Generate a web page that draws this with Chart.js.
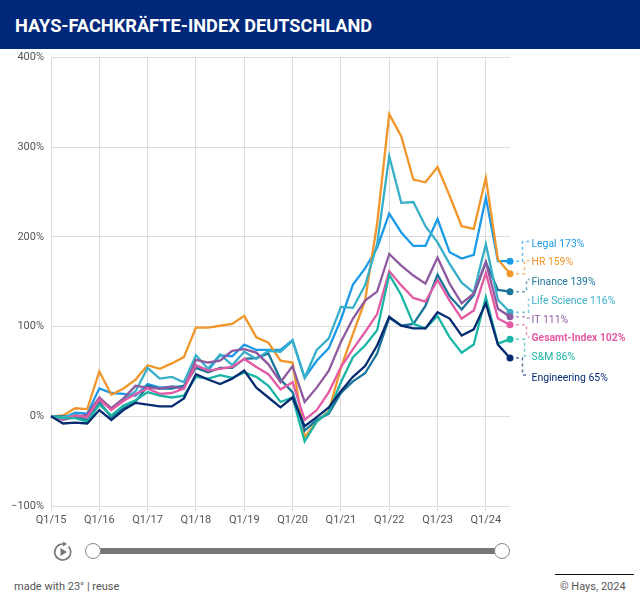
<!DOCTYPE html>
<html lang="de">
<head>
<meta charset="utf-8">
<title>Hays-Fachkräfte-Index Deutschland</title>
<script src="https://cdn.jsdelivr.net/npm/chart.js@4"></script>
<style>
  html, body { margin: 0; padding: 0; background: #fff; font-family: Roboto, sans-serif; }
  #page { position: relative; width: 640px; height: 606px; overflow: hidden; }
  #head { position: absolute; left: 0; top: 0; width: 640px; height: 49px; background: #00287a; }
  #head h1 { margin: 0; position: absolute; left: 15px; top: 15px; font-size: 18.2px; line-height: 22px; font-weight: 700; color: #fff; white-space: nowrap; }
  #wrap { position: absolute; left: 0; top: 44px; width: 640px; height: 495px; }
  #bar { position: absolute; left: 93px; top: 548px; width: 409px; height: 6px; background: #777; }
  .knob { position: absolute; top: 543px; width: 14px; height: 14px; border: 1px solid #888; border-radius: 50%; background: #fff; }
  #play { position: absolute; left: 53px; top: 541px; }
  .foot { position: absolute; top: 580px; font-size: 11px; line-height: 14px; color: #555; white-space: nowrap; }
  #rule { position: absolute; left: 555px; top: 574px; width: 79px; height: 1px; background: #111; }
</style>
</head>
<body>
<div id="page">
  <div id="wrap"><canvas id="myChart" width="640" height="495"></canvas></div>
  <div id="head"><h1>HAYS-FACHKRÄFTE-INDEX DEUTSCHLAND</h1></div>
  <svg id="play" width="20" height="21" viewBox="0 0 20 21">
    <path d="M15.5 5.5 A8 8 0 1 1 10 3" fill="none" stroke="#777" stroke-width="1.6"/>
    <path d="M10 0.5 L14 3 L10 5.5 Z" fill="#777"/>
    <path d="M7.5 7 L14 11 L7.5 15 Z" fill="#777"/>
  </svg>
  <div id="bar"></div>
  <div class="knob" style="left:85px"></div>
  <div class="knob" style="left:494px"></div>
  <div class="foot" style="left:14px">made with 23° | reuse</div>
  <div id="rule"></div>
  <div class="foot" style="left:560px">© Hays, 2024</div>
</div>
<script>
const quarters = [
  "Q1/15", "Q2/15", "Q3/15", "Q4/15", "Q1/16", "Q2/16", "Q3/16", "Q4/16",
  "Q1/17", "Q2/17", "Q3/17", "Q4/17", "Q1/18", "Q2/18", "Q3/18", "Q4/18",
  "Q1/19", "Q2/19", "Q3/19", "Q4/19", "Q1/20", "Q2/20", "Q3/20", "Q4/20",
  "Q1/21", "Q2/21", "Q3/21", "Q4/21", "Q1/22", "Q2/22", "Q3/22", "Q4/22",
  "Q1/23", "Q2/23", "Q3/23", "Q4/23", "Q1/24", "Q2/24", "Q3/24"
];
const yTicks = [-100, 0, 100, 200, 300, 400];

const legal = [0, -2, 4, 3, 31, 26, 25, 23, 36, 32, 33, 33, 57, 51, 68, 67, 80, 74, 74, 74, 85, 43, 62, 76, 108, 147, 165, 188, 226, 205, 190, 190, 220, 183, 176, 180, 244, 173, 173];
const hr = [0, 1, 9, 8, 50, 24, 31, 41, 57, 53, 59, 66, 99, 99, 101, 103, 112, 88, 82, 62, 60, -23, -6, 6, 54, 92, 129, 215, 337, 312, 264, 261, 278, 246, 212, 209, 266, 175, 159];
const finance = [0, 0, 0, -4, 16, -1, 9, 16, 34, 31, 31, 34, 54, 49, 54, 54, 64, 65, 70, 41, 27, -16, -4, 3, 26, 39, 48, 70, 110, 101, 103, 123, 158, 134, 119, 135, 172, 141, 139];
const lifeScience = [0, -1, 2, -2, 20, 8, 18, 28, 54, 42, 44, 38, 68, 53, 69, 57, 72, 64, 73, 72, 84, 43, 74, 87, 122, 121, 146, 192, 290, 238, 239, 212, 194, 170, 149, 138, 192, 130, 116];
const it = [0, -4, -1, 2, 21, 9, 20, 34, 32, 31, 33, 31, 63, 60, 62, 73, 75, 71, 58, 38, 56, 16, 32, 51, 83, 109, 129, 139, 181, 168, 157, 148, 177, 148, 126, 137, 172, 120, 111];
const gesamtIndex = [0, -3, 1, -1, 19, 7, 17, 25, 31, 25, 26, 31, 57, 51, 53, 55, 64, 55, 47, 30, 38, -4, 7, 27, 55, 75, 94, 114, 162, 146, 132, 128, 152, 129, 109, 118, 160, 109, 102];
const sm = [0, -2, -2, -6, 13, 1, 12, 18, 27, 23, 21, 23, 44, 42, 46, 43, 49, 44, 34, 16, 21, -28, -6, 5, 38, 66, 79, 96, 158, 135, 103, 98, 112, 88, 71, 80, 133, 81, 86];
const engineering = [0, -8, -7, -8, 7, -4, 7, 15, 13, 11, 11, 20, 47, 41, 36, 42, 51, 32, 21, 10, 21, -11, -1, 10, 28, 44, 56, 79, 111, 101, 98, 98, 116, 109, 90, 97, 126, 80, 65];

// top dataset comes first, chart.js paints the list backwards
const series = [
  { name: "Engineering", data: engineering, color: "#052b72", labelY: 378, lineY: 375, elbow: 522.5 },
  { name: "S&M", data: sm, color: "#1ab5a5", labelY: 357.5, lineY: 356, elbow: 524.5 },
  { name: "Gesamt-Index", data: gesamtIndex, color: "#e45aa5", labelY: 338.5, lineY: 337, elbow: 526.5, bold: true },
  { name: "IT", data: it, color: "#8e5a9f", labelY: 320, lineY: 318, elbow: 526.5 },
  { name: "Life Science", data: lifeScience, color: "#38afc8", labelY: 301.5, lineY: 299.5, elbow: 528.5 },
  { name: "Finance", data: finance, color: "#1b7499", labelY: 282, lineY: 279.5, elbow: 526.5 },
  { name: "HR", data: hr, color: "#f0962a", labelY: 262.5, lineY: 260.5, elbow: 524.5 },
  { name: "Legal", data: legal, color: "#1a9ae8", labelY: 244, lineY: 241.5, elbow: 522.5 }
];

const CANVAS_TOP = 44;
const LABEL_X = 531.5;

const endLabels = {
  id: "endLabels",
  afterDatasetsDraw(chart) {
    const ctx = chart.ctx;
    ctx.save();
    series.forEach(function (s, i) {
      const last = chart.getDatasetMeta(i).data[quarters.length - 1];
      const lineY = s.lineY - CANVAS_TOP;
      ctx.globalAlpha = 0.65;
      ctx.strokeStyle = s.color;
      ctx.lineWidth = 1.5;
      ctx.setLineDash([3, 3]);
      ctx.beginPath();
      ctx.moveTo(last.x, last.y);
      ctx.lineTo(s.elbow, last.y);
      ctx.lineTo(s.elbow, lineY);
      ctx.lineTo(LABEL_X - 2, lineY);
      ctx.stroke();

      ctx.globalAlpha = 1;
      ctx.setLineDash([]);
      ctx.fillStyle = s.color;
      ctx.font = (s.bold ? "700" : "400") + " 10.4px Roboto, sans-serif";
      ctx.textAlign = "left";
      ctx.textBaseline = "middle";
      ctx.fillText(s.name + " " + s.data[s.data.length - 1] + "%", LABEL_X, s.labelY - CANVAS_TOP);
    });
    ctx.restore();
  }
};

const data = {
  labels: quarters,
  datasets: series.map(function (s) {
    return {
      label: s.name,
      data: s.data,
      borderColor: s.color,
      backgroundColor: s.color,
      borderWidth: 2.3,
      tension: 0,
      pointBorderWidth: 0,
      pointRadius: function (c) {
        return c.dataIndex === quarters.length - 1 ? 3.5 : 0;
      }
    };
  })
};

const config = {
  type: "line",
  data,
  plugins: [endLabels],
  options: {
    responsive: false,
    animation: false,
    layout: {
      padding: { top: 12, right: 130, bottom: 0, left: 0 }
    },
    plugins: {
      legend: { display: false },
      tooltip: { enabled: false }
    },
    scales: {
      x: {
        afterFit: function (scale) {
          scale.height = 33;
        },
        grid: {
          color: function (c) {
            return c.index % 4 === 0 ? "#dcdcdc" : "rgba(0,0,0,0)";
          },
          tickLength: 5,
          drawTicks: true
        },
        border: { display: false },
        ticks: {
          autoSkip: false,
          maxRotation: 0,
          padding: 3,
          color: "#555",
          font: { family: "Roboto, sans-serif", size: 11 },
          callback: function (val, index) {
            return index % 4 === 0 ? quarters[index] : "";
          }
        }
      },
      y: {
        min: yTicks[0],
        max: yTicks[yTicks.length - 1],
        afterFit: function (scale) {
          scale.width = 51;
        },
        grid: { color: "#dcdcdc", drawTicks: false },
        border: { display: false },
        ticks: {
          stepSize: 100,
          padding: 7,
          color: "#555",
          font: { family: "Roboto, sans-serif", size: 11 },
          callback: function (val) {
            return (val < 0 ? "−" + Math.abs(val) : val) + "%";
          }
        }
      }
    }
  }
};

const ctx = document.getElementById("myChart").getContext("2d");
new Chart(ctx, config);
</script>
</body>
</html>
